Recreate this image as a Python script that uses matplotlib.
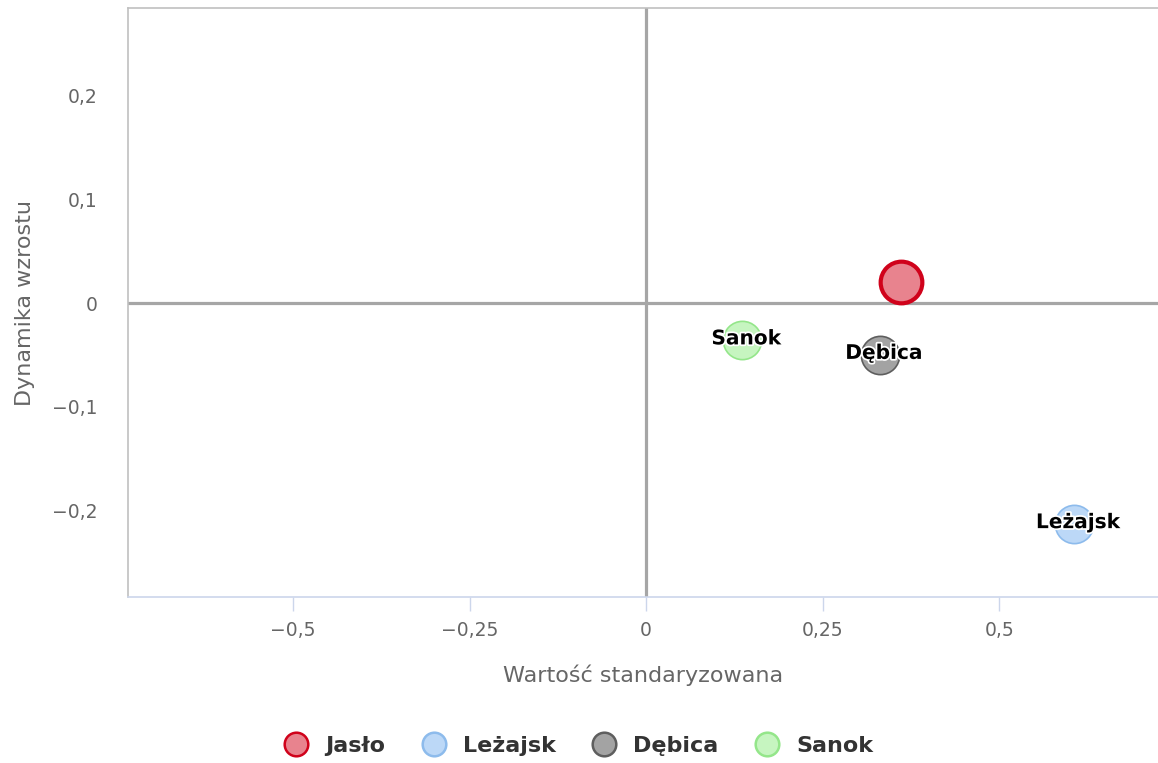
import matplotlib
matplotlib.use("Agg")
import matplotlib.pyplot as plt
import matplotlib.patheffects as pe
from matplotlib.lines import Line2D
from matplotlib.ticker import FixedLocator, FuncFormatter

names = ["Jasło", "Leżajsk", "Dębica", "Sanok"]
x_vals = [0.361, 0.606, 0.331, 0.136]
y_vals = [0.020, -0.2135, -0.050, -0.036]
fills = ["#e8838e", "#bcd8f7", "#a3a3a3", "#c6f5c0"]
edges = ["#d0021b", "#8dbbec", "#5e5e5e", "#94e68a"]
edge_w = [3.0, 1.2, 1.2, 1.2]
sizes = [900, 760, 760, 760]
show_label = [False, True, True, True]

x_ticks = [-0.5, -0.25, 0, 0.25, 0.5]
y_ticks = [-0.2, -0.1, 0, 0.1, 0.2]

plt.rcParams['font.family'] = ['DejaVu Sans']

W, H = 1158, 763
fig = plt.figure(figsize=(W / 100, H / 100), dpi=100)
ax = fig.add_axes([128 / W, (H - 597) / H, (W - 128) / W, (597 - 8) / H])
ax.set_xlim(-0.734, 0.725)
ax.set_ylim(-0.284, 0.285)

ax.axhline(0, color="#a6a6a6", lw=2.3, zorder=1)
ax.axvline(0, color="#a6a6a6", lw=2.3, zorder=1)

for i in range(len(names)):
    ax.scatter([x_vals[i]], [y_vals[i]], s=sizes[i], c=fills[i], edgecolors=edges[i],
               linewidths=edge_w[i], zorder=3)
    if show_label[i]:
        ax.annotate(names[i], (x_vals[i], y_vals[i]), xytext=(3, 1),
                    textcoords="offset points", ha="center", va="center",
                    fontsize=14.5, fontweight="bold", color="black", zorder=4,
                    path_effects=[pe.withStroke(linewidth=2.5, foreground="white")])

for s in ["left", "top"]:
    ax.spines[s].set_color("#c0c0c0")
    ax.spines[s].set_linewidth(1.2)
ax.spines["right"].set_visible(False)
ax.spines["bottom"].set_color("#ccd6eb")
ax.spines["bottom"].set_linewidth(1.2)

fmt = FuncFormatter(lambda v, p: ("0" if abs(v) < 1e-9 else ("%g" % v).replace(".", ",").replace("-", "−")))
ax.xaxis.set_major_locator(FixedLocator(x_ticks))
ax.yaxis.set_major_locator(FixedLocator(y_ticks))
ax.xaxis.set_major_formatter(fmt)
ax.yaxis.set_major_formatter(fmt)
ax.tick_params(axis="x", length=10, width=1, color="#ccd6eb", labelsize=13.5,
               labelcolor="#666666", pad=7)
ax.tick_params(axis="y", length=0, labelsize=13.5, labelcolor="#666666", pad=22)

ax.set_xlabel("Wartość standaryzowana", fontsize=16, color="#666666", va="center")
ax.set_ylabel("Dynamika wzrostu", fontsize=16, color="#666666", va="center")
ax.xaxis.set_label_coords(0.5, (597 - 675) / 589)
ax.yaxis.set_label_coords((25 - 128) / 1030, 0.5)

handles = [Line2D([0], [0], marker="o", linestyle="none", markersize=17,
                  markerfacecolor=fills[i], markeredgecolor=edges[i],
                  markeredgewidth=1.8) for i in range(len(names))]
leg = fig.legend(handles, names, loc="center", bbox_to_anchor=(0.5, 1 - 746 / H),
                 ncol=4, frameon=False, handlelength=1.0, handletextpad=0.8,
                 columnspacing=1.7, prop={"size": 16, "weight": "bold"})
for t in leg.get_texts():
    t.set_color("#333333")

fig.savefig("out.png", dpi=100)
